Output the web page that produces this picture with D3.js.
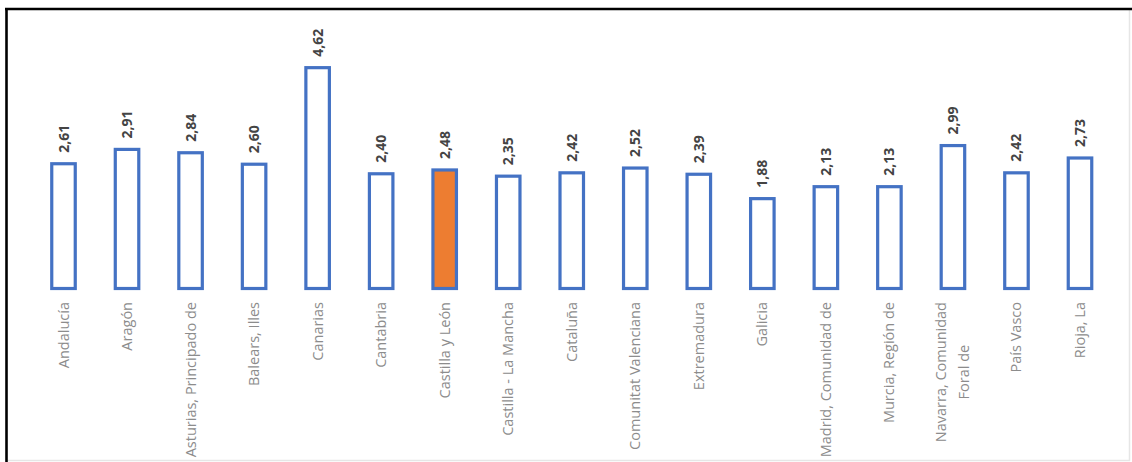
<!DOCTYPE html>
<html><head><meta charset="utf-8">
<script src="https://cdn.jsdelivr.net/npm/d3@7"></script>
<style>html,body{margin:0;padding:0;background:#fff;}svg{display:block;}</style>
</head><body>
<svg id="c" width="1132" height="462"></svg>
<script>
const categories = [
  ["Andalucía"], ["Aragón"], ["Asturias, Principado de"], ["Balears, Illes"], ["Canarias"],
  ["Cantabria"], ["Castilla y León"], ["Castilla - La Mancha"], ["Cataluña"],
  ["Comunitat Valenciana"], ["Extremadura"], ["Galicia"], ["Madrid, Comunidad de"],
  ["Murcia, Región de"], ["Navarra, Comunidad", "Foral de"], ["País Vasco"], ["Rioja, La"]
];
const values = [2.61, 2.91, 2.84, 2.60, 4.62, 2.40, 2.48, 2.35, 2.42, 2.52, 2.39, 1.88, 2.13, 2.13, 2.99, 2.42, 2.73];
const highlight = ["Castilla y León"];

const svg = d3.select("#c");
// frame
svg.append("line").attr("x1",1129.5).attr("y1",9).attr("x2",1129.5).attr("y2",461).attr("stroke","#e6e6e6").attr("stroke-width",1.5);
svg.append("line").attr("x1",6).attr("y1",460.5).attr("x2",1130).attr("y2",460.5).attr("stroke","#e6e6e6").attr("stroke-width",1.5);
svg.append("line").attr("x1",5).attr("y1",9).attr("x2",1132).attr("y2",9).attr("stroke","#000").attr("stroke-width",2.6);
svg.append("line").attr("x1",6.5).attr("y1",8).attr("x2",6.5).attr("y2",462).attr("stroke","#000").attr("stroke-width",2.6);

const names = categories.map(c => c.join(" "));
const x = d3.scalePoint().domain(names).range([63.5, 1080]);
const y = d3.scaleLinear().domain([0, 4.62]).range([288.5, 288.5 - 4.62*47.8]);
const bw = 23.5;

const g = svg.append("g");
g.selectAll("rect.bar").data(values).join("rect")
  .attr("class","bar")
  .attr("x",(d,i)=>x(names[i]) - bw/2)
  .attr("width",bw)
  .attr("y",d=>y(d))
  .attr("height",d=>y(0)-y(d))
  .attr("fill",(d,i)=>highlight.includes(names[i]) ? "#ED7D31" : "#fff")
  .attr("stroke","#4472C4")
  .attr("stroke-width",3.2);

g.selectAll("text.val").data(values).join("text")
  .attr("class","val")
  .attr("transform",(d,i)=>`translate(${x(names[i]) + 5},${y(d) - 11}) rotate(-90)`)
  .attr("text-anchor","start")
  .attr("font-family","'Open Sans', sans-serif")
  .attr("font-weight","bold")
  .attr("font-size",14)
  .attr("fill","#444")
  .text(d=>d.toFixed(2).replace(".", ","));

const labelTop = 302;
categories.forEach((lines,i)=>{
  const cx = x(names[i]);
  const n = lines.length;
  const lh = 23;
  let first = null;
  lines.forEach((ln,j)=>{
    const off = (j - (n-1)/2) * lh;
    const t = g.append("text")
      .attr("font-family","'Open Sans', sans-serif")
      .attr("font-size",14.5)
      .attr("fill","#8c8c8c")
      .text(ln);
    if (j === 0) {
      t.attr("text-anchor","end")
       .attr("transform",`translate(${cx + off + 5},${labelTop}) rotate(-90)`);
      first = t.node().getComputedTextLength();
    } else {
      t.attr("text-anchor","middle")
       .attr("transform",`translate(${cx + off + 5},${labelTop + first/2}) rotate(-90)`);
    }
  });
});
</script>
</body></html>
